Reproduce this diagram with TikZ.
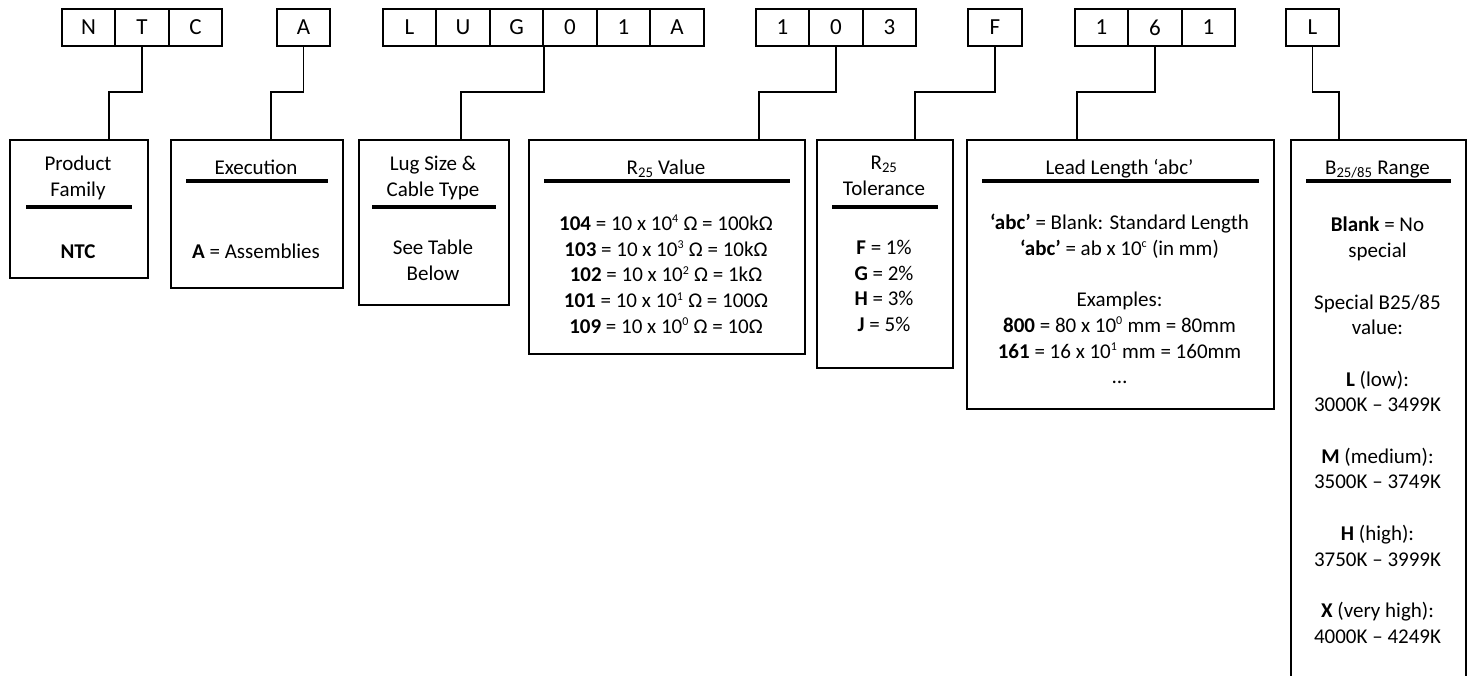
\documentclass[tikz,border=0pt]{standalone}
\usepackage{fontspec}
\setmainfont{Carlito}
\usetikzlibrary{calc, positioning}
\newcommand\pow[1]{\textsuperscript{\fontsize{12}{12}\selectfont #1}}

\begin{document}
\begin{tikzpicture}[x=1pt, y=-1pt,
  cell/.style={draw, line width=1.6pt, minimum width=53.5pt, minimum height=37pt, inner sep=0pt, font=\fontsize{23}{27}\selectfont},
  infobox/.style={draw, line width=1.6pt, anchor=north west, inner sep=0pt},
  txt/.style={align=center, inner sep=0pt, anchor=north, font=\fontsize{21}{25.7}\selectfont, execute at begin node=\strut},
  sep/.style={line width=3.5pt},
  link/.style={line width=1.6pt}]
  \useasboundingbox (0,0) rectangle (1470,675);
  \clip (0,0) rectangle (1470,675);

  % Code letters
  \foreach \ch/\x [count=\i] in {N/88.5, T/142, C/195.5, A/303.5,
      L/409.5, U/463, G/516.5, 0/570, 1/623.5, A/677,
      1/782.5, 0/836, 3/889.5, F/995, 1/1101.5, 6/1155, 1/1208.5, L/1312.5} {
    \node[cell] (c\i) at (\x,27.5) {\ch};
  }

  % Description boxes
  \node[infobox, minimum width=138pt, minimum height=138pt] (pf) at (9,139) {};
  \node[infobox, minimum width=172pt, minimum height=148pt] (ex) at (170,139) {};
  \node[infobox, minimum width=150pt, minimum height=165pt] (lug) at (358,139) {};
  \node[infobox, minimum width=276pt, minimum height=214pt] (rv) at (528,139) {};
  \node[infobox, minimum width=136pt, minimum height=228pt] (tol) at (816,139) {};
  \node[infobox, minimum width=307pt, minimum height=269pt] (ll) at (966,139) {};
  \node[infobox, minimum width=175pt, minimum height=560pt] (br) at (1290,139) {};

  % Title rules
  \foreach \b/\d/\s in {pf/68/17, ex/42/16, lug/68/14, rv/42/16, tol/68/16, ll/42/16, br/42/16} {
    \draw[sep] ($(\b.north west)+(\s,\d)$) -- ($(\b.north east)+(-\s,\d)$);
  }

  % Titles
  \node[txt] (pfT) at (78,156) {Product\\Family};
  \node[txt] (exT) at (256,156) {Execution};
  \node[txt] (lugT) at (433,156) {Lug Size \&\\Cable Type};
  \node[txt] (rvT) at (666,156) {R\textsubscript{25} Value};
  \node[txt] (tolT) at (884,156) {R\textsubscript{25}\\Tolerance};
  \node[txt] (llT) at (1119.5,156) {Lead Length ‘abc’};
  \node[txt] (brT) at (1377.5,156) {B\textsubscript{25/85} Range};

  % Contents
  \node[txt] (pfB) at (78,240) {\textbf{NTC}};
  \node[txt] (exB) at (256,240) {\textbf{A} = Assemblies};
  \node[txt] (lugB) at (433,240) {See Table\\Below};
  \node[txt] (rvB) at (666,215) {\textbf{104} = 10 x 10\pow{4} Ω = 100kΩ\\
    \textbf{103} = 10 x 10\pow{3} Ω = 10kΩ\\
    \textbf{102} = 10 x 10\pow{2} Ω = 1kΩ\\
    \textbf{101} = 10 x 10\pow{1} Ω = 100Ω\\
    \textbf{109} = 10 x 10\pow{0} Ω = 10Ω};
  \node[txt] (tolB) at (884,240) {\textbf{F} = 1\%\\ \textbf{G} = 2\%\\ \textbf{H} = 3\%\\ \textbf{J} = 5\%};
  \node[txt] (llB) at (1119.5,214) {\textbf{‘abc’} = Blank: Standard Length\\
    \textbf{‘abc’} = ab x 10\pow{c} (in mm)\\[25.7pt]
    Examples:\\
    \textbf{800} = 80 x 10\pow{0} mm = 80mm\\
    \textbf{161} = 16 x 10\pow{1} mm = 160mm\\
    …};
  \node[txt] (brB) at (1377.5,217) {\textbf{Blank} = No\\ special\\[25.7pt]
    Special B25/85\\ value:\\[25.7pt]
    \textbf{L} (low):\\ 3000K – 3499K\\[25.7pt]
    \textbf{M} (medium):\\ 3500K – 3749K\\[25.7pt]
    \textbf{H} (high):\\ 3750K – 3999K\\[25.7pt]
    \textbf{X} (very high):\\ 4000K – 4249K};

  % Connectors
  \draw[link] (c2.south) -- ++(0,45) -| ([xshift=30pt]pf.north);
  \draw[link] (c4.south) -- ++(0,45) -| ([xshift=14pt]ex.north);
  \draw[link] (c7.south east) -- ++(0,45) -| ([xshift=27pt]lug.north);
  \draw[link] (c12.south) -- ++(0,45) -| ([xshift=92pt]rv.north);
  \draw[link] (c14.south) -- ++(0,45) -| ([xshift=30pt]tol.north);
  \draw[link] (c16.south) -- ++(0,45) -| ([xshift=-43.5pt]ll.north);
  \draw[link] (c18.south) -- ++(0,45) -| ([xshift=-39.5pt]br.north);
\end{tikzpicture}
\end{document}
